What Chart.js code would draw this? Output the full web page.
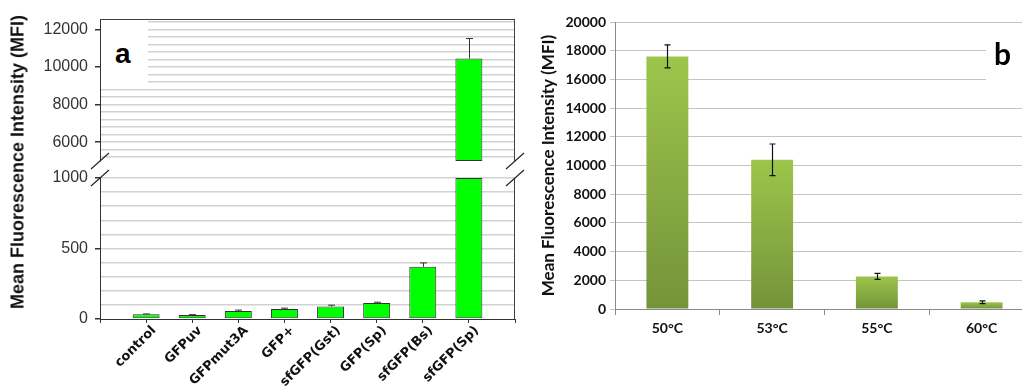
<!DOCTYPE html>
<html>
<head>
<meta charset="utf-8">
<script src="https://cdn.jsdelivr.net/npm/chart.js@4.4.0/dist/chart.umd.min.js"></script>
<style>
  html, body { margin: 0; padding: 0; background: #fff; overflow: hidden; }
  body { width: 1022px; height: 387px; position: relative; }
  canvas { position: absolute; top: 0; }
  #lowA, #upA { left: 0; }
  #chartB { left: 530px; }
  .ytitle {
    position: absolute; left: 18px; top: 162px; white-space: nowrap;
    font: bold 18px "Liberation Sans", Arial, sans-serif; color: #111;
    transform: translate(-50%, -50%) rotate(-90deg);
  }
  .box { position: absolute; background: #fff; }
  .letter { position: absolute; font-weight: bold; color: #000; line-height: 1; }
</style>
</head>
<body>
<canvas id="lowA" width="525" height="387"></canvas>
<canvas id="upA" width="525" height="170"></canvas>
<div class="ytitle">Mean Fluorescence Intensity (MFI)</div>
<div class="box" style="left:101px;top:21px;width:47px;height:65px;"></div>
<div class="letter" style="left:115px;top:40px;font-size:28px;font-family:'Liberation Sans',Arial,sans-serif;">a</div>
<canvas id="chartB" width="510" height="387"></canvas>
<div class="box" style="left:986px;top:36px;width:40px;height:58px;"></div>
<div class="letter" style="left:994px;top:38px;font-size:30px;font-family:Lato,sans-serif;">b</div>
<script>
// panel a: GFP variants
var categories = ['control', 'GFPuv', 'GFPmut3A', 'GFP+', 'sfGFP(Gst)', 'GFP(Sp)', 'sfGFP(Bs)', 'sfGFP(Sp)'];
var mfi = [33, 28, 57, 71, 88, 114, 370, 10450];
var mfiErr = [3, 3, 6, 6, 10, 5, 28, 1060];
var upperTicks = [6000, 8000, 10000, 12000];
var lowerTicks = [0, 500, 1000];

// panel b: temperature
var temps = ['50°C', '53°C', '55°C', '60°C'];
var tempMfi = [17600, 10400, 2270, 470];
var tempErr = [800, 1100, 210, 100];

var upMin = 5000, upMax = 12550, lowMax = 1000;
var fontA = '"Liberation Sans", Arial, sans-serif';
var fontB = 'Lato, sans-serif';

// blank slot at each end, like the original x range
var labelsA = [''].concat(categories, ['']);

function gridTicks(lo, hi, step) {
  return function(s) {
    var t = [];
    for (var v = Math.ceil(lo / step) * step; v <= hi; v += step) t.push({value: v});
    s.ticks = t;
  };
}

// fixed axis sizes so the plot areas land where they should
function fixWidth(w) {
  return function(s) { s.width = w; s.paddingTop = 0; s.paddingBottom = 0; };
}
function fixHeight(h) {
  return function(s) { s.height = h; s.paddingLeft = 0; s.paddingRight = 0; };
}

function errorBars(vals, errs, o) {
  return {
    id: 'errbars',
    afterDatasetsDraw: function(chart) {
      var x = chart.scales.x, y = chart.scales.y, a = chart.chartArea, ctx = chart.ctx;
      ctx.save();
      ctx.beginPath();
      ctx.rect(a.left, a.top - 2, a.right - a.left, a.bottom - a.top + 4);
      ctx.clip();
      ctx.strokeStyle = o.color;
      ctx.lineWidth = o.width;
      vals.forEach(function(v, i) {
        var px = Math.round(x.getPixelForValue(i + o.shift)) + 0.5;
        var top = y.getPixelForValue(v + errs[i]);
        var bot = y.getPixelForValue(o.both ? v - errs[i] : v);
        ctx.beginPath();
        ctx.moveTo(px, bot); ctx.lineTo(px, top);
        ctx.moveTo(px - o.cap, top); ctx.lineTo(px + o.cap, top);
        if (o.both) { ctx.moveTo(px - o.cap, bot); ctx.lineTo(px + o.cap, bot); }
        ctx.stroke();
      });
      ctx.restore();
    }
  };
}

// frame lines and the axis-break slashes
function frame(top, breakAt) {
  return {
    id: 'frame',
    afterDraw: function(chart) {
      var a = chart.chartArea, ctx = chart.ctx;
      ctx.save();
      ctx.strokeStyle = '#404040';
      ctx.lineWidth = 1;
      ctx.beginPath();
      if (top) { ctx.moveTo(a.left, a.top + 0.5); ctx.lineTo(a.right, a.top + 0.5); }
      ctx.moveTo(a.right - 0.5, a.top); ctx.lineTo(a.right - 0.5, a.bottom);
      ctx.stroke();
      var by = breakAt === 'bottom' ? a.bottom : a.top;
      ctx.strokeStyle = '#222';
      ctx.lineWidth = 1.2;
      [a.left, a.right].forEach(function(bx) {
        ctx.beginPath();
        ctx.moveTo(bx - 9, by + 8);
        ctx.lineTo(bx + 9, by - 8);
        ctx.stroke();
      });
      ctx.restore();
    }
  };
}

function yTickColor(list) {
  return function(c) { return c.tick && list.indexOf(c.tick.value) >= 0 ? '#333' : 'transparent'; };
}

// lower part of panel a (0 - 1000)
new Chart(document.getElementById('lowA'), {
  type: 'bar',
  data: {
    labels: labelsA,
    datasets: [{
      data: [null].concat(mfi.map(function(v) { return Math.min(v, lowMax); }), [null]),
      backgroundColor: '#00ff00',
      borderColor: '#333',
      borderWidth: 1,
      borderSkipped: false,
      barPercentage: 0.585,
      categoryPercentage: 1,
      clip: false
    }]
  },
  options: {
    responsive: false,
    animation: false,
    layout: { padding: { top: 178, right: 10, bottom: 0, left: 0 } },
    plugins: { legend: { display: false }, tooltip: { enabled: false } },
    scales: {
      x: {
        offset: false,
        grid: { display: true, drawOnChartArea: false, offset: false, tickLength: 4, tickColor: '#333' },
        border: { color: '#333' },
        ticks: {
          autoSkip: false, minRotation: 45, maxRotation: 45, padding: 0, labelOffset: 8,
          color: '#111', font: { family: '"DejaVu Sans", sans-serif', weight: 'bold', size: 13 }
        },
        afterFit: fixHeight(68)
      },
      y: {
        min: 0, max: lowMax,
        afterBuildTicks: gridTicks(0, lowMax, 100),
        ticks: {
          autoSkip: false, padding: 7, color: '#333', font: { family: fontA, size: 16 },
          callback: function(v) { return lowerTicks.indexOf(v) >= 0 ? v : ''; }
        },
        grid: {
          color: function(c) { return c.tick && c.tick.value > 0 ? '#d2d2d2' : 'transparent'; },
          lineWidth: 1.5, tickLength: 5, tickColor: yTickColor(lowerTicks)
        },
        border: { color: '#333' },
        afterFit: fixWidth(100)
      }
    }
  },
  plugins: [errorBars(mfi, mfiErr, { shift: 1, both: false, cap: 3.5, color: '#333', width: 1 }), frame(false, 'top')]
});

// upper part of panel a (5000 - 12550)
new Chart(document.getElementById('upA'), {
  type: 'bar',
  data: {
    labels: labelsA,
    datasets: [{
      data: [null].concat(mfi.map(function(v) { return v > upMin ? [upMin, v] : null; }), [null]),
      backgroundColor: '#00ff00',
      borderColor: '#333',
      borderWidth: 1,
      borderSkipped: false,
      barPercentage: 0.585,
      categoryPercentage: 1,
      clip: false
    }]
  },
  options: {
    responsive: false,
    animation: false,
    layout: { padding: { top: 19, right: 10, bottom: 9, left: 0 } },
    plugins: { legend: { display: false }, tooltip: { enabled: false } },
    scales: {
      x: { display: false, offset: false },
      y: {
        min: upMin, max: upMax,
        afterBuildTicks: gridTicks(upMin, upMax, 400),
        ticks: {
          autoSkip: false, padding: 7, color: '#333', font: { family: fontA, size: 16 },
          callback: function(v) { return upperTicks.indexOf(v) >= 0 ? v : ''; }
        },
        grid: { color: '#d2d2d2', lineWidth: 1.5, tickLength: 5, tickColor: yTickColor(upperTicks) },
        border: { color: '#333' },
        afterFit: fixWidth(100)
      }
    }
  },
  plugins: [errorBars(mfi, mfiErr, { shift: 1, both: false, cap: 3.5, color: '#333', width: 1 }), frame(true, 'bottom')]
});

// panel b
new Chart(document.getElementById('chartB'), {
  type: 'bar',
  data: {
    labels: temps,
    datasets: [{
      data: tempMfi,
      backgroundColor: function(c) {
        var chart = c.chart;
        if (!chart.chartArea || c.raw === undefined) return '#8aad42';
        var y = chart.scales.y;
        var g = chart.ctx.createLinearGradient(0, y.getPixelForValue(c.raw), 0, y.getPixelForValue(0));
        g.addColorStop(0, '#9dc54b');
        g.addColorStop(1, '#74933a');
        return g;
      },
      borderWidth: 0,
      barPercentage: 0.5,
      categoryPercentage: 0.8
    }]
  },
  options: {
    responsive: false,
    animation: false,
    layout: { padding: { top: 22, right: 6, bottom: 0, left: 0 } },
    plugins: { legend: { display: false }, tooltip: { enabled: false } },
    scales: {
      x: {
        grid: { display: true, drawOnChartArea: false, tickLength: 6, tickColor: '#8a8a8a' },
        border: { color: '#8a8a8a' },
        ticks: { padding: 5, color: '#111', font: { family: fontB, weight: 'bold', size: 14 } },
        afterFit: fixHeight(78)
      },
      y: {
        min: 0, max: 20000,
        ticks: {
          stepSize: 2000, autoSkip: false, padding: 4, color: '#111',
          font: { family: fontB, weight: 'bold', size: 14 },
          callback: function(v) { return v; }
        },
        grid: { color: '#c4c4c4', lineWidth: 1, tickLength: 5, tickColor: '#c4c4c4' },
        border: { color: '#8a8a8a' },
        title: {
          display: true, text: 'Mean Fluorescence Intensity (MFI)', color: '#111',
          font: { family: fontB, weight: 'bold', size: 17 }, padding: { top: 8, bottom: 0 }
        },
        afterFit: fixWidth(85)
      }
    }
  },
  plugins: [errorBars(tempMfi, tempErr, { shift: 0, both: true, cap: 3, color: '#111', width: 1.2 })]
});
</script>
</body>
</html>
